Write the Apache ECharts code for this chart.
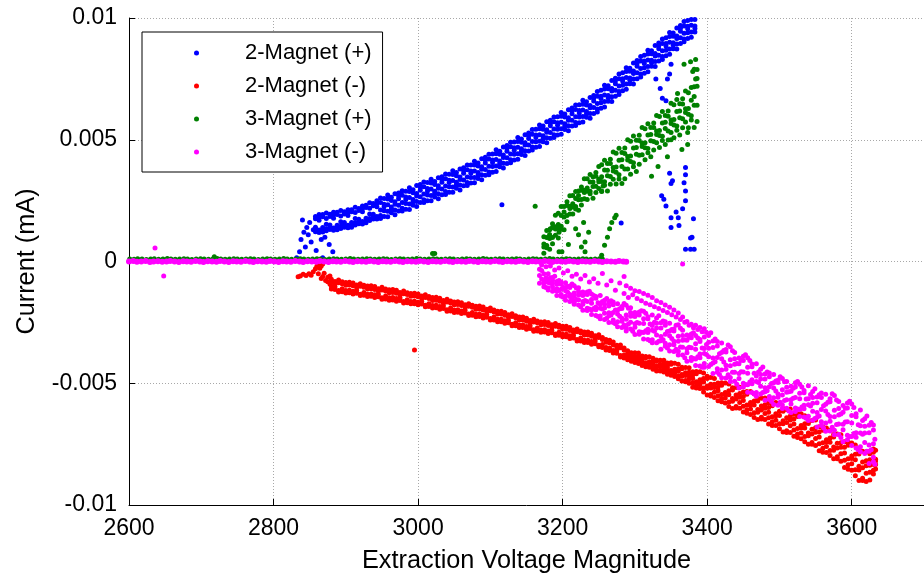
<!DOCTYPE html>
<html>
<head>
<meta charset="utf-8">
<script src="https://cdn.jsdelivr.net/npm/echarts@6/dist/echarts.min.js"></script>
<style>
html, body { margin: 0; padding: 0; background: #fff; }
#chart { width: 924px; height: 579px; }
</style>
</head>
<body>
<div id="chart"></div>
<script>
// Axis ticks
const voltageTicks = [2600, 2800, 3000, 3200, 3400, 3600];
const currentTicks = [-0.01, -0.005, 0, 0.005, 0.01];
const seriesNames = ['2-Magnet (+)', '2-Magnet (-)', '3-Magnet (+)', '3-Magnet (-)'];

// Each row: [extraction voltage, current (mA), current (mA), ...]
const twoMagnetPos = [
[2832,0.00015],[2836,0.0004],[2838,0.0009],[2840,0.0017],[2842,0.0012],[2844,0.0006],[2846,0.0014],[2848,0.0011],[2850,0.0016],[2852,0.0008],[2855,0.0013],
[2859,0.00045],[2866,0.0009],[2868,0.00015],[2871,0.001],[2877,0.0007],[2882,0.0004],[3116,0.00233],[3281,0.00158],
[2858,0.00185,0.00176,0.00131,0.00122,0.00141],
[2863,0.00193,0.00183,0.00129,0.00119,0.00169],
[2868,0.00184,0.00193,0.0014,0.00129,0.00121],
[2873,0.00199,0.00177,0.00126,0.00135,0.00153],
[2878,0.00194,0.00185,0.0014,0.00131,0.0015],
[2883,0.00202,0.00192,0.00138,0.00128,0.00178],
[2888,0.00193,0.00202,0.00149,0.00138,0.0013],
[2893,0.00209,0.00187,0.00136,0.00145,0.00163],
[2898,0.00204,0.00195,0.0015,0.00141,0.0016],
[2903,0.00213,0.00203,0.00149,0.00139,0.00189],
[2908,0.00204,0.00213,0.0016,0.00149,0.00141],
[2913,0.00223,0.00201,0.0015,0.00159,0.00177],
[2918,0.00218,0.00209,0.00164,0.00155,0.00174],
[2923,0.00228,0.00218,0.00164,0.00154,0.00204],
[2928,0.00222,0.00231,0.00178,0.00167,0.00159],
[2933,0.00241,0.00219,0.00168,0.00177,0.00195],
[2938,0.00238,0.00229,0.00184,0.00175,0.00194],
[2943,0.00249,0.00239,0.00185,0.00175,0.00225],
[2948,0.00261,0.00242,0.00212,0.00189,0.00177],
[2953,0.00259,0.00235,0.00208,0.00185,0.00225],
[2958,0.00273,0.00257,0.00233,0.00206,0.00184],
[2963,0.00264,0.00251,0.00224,0.002,0.00214],
[2968,0.00278,0.00245,0.00235,0.00212,0.00192],
[2973,0.0027,0.00281,0.00231,0.00207,0.00258],
[2978,0.00291,0.00272,0.00242,0.00219,0.00207],
[2983,0.00289,0.00265,0.00238,0.00215,0.00255],
[2988,0.00303,0.00287,0.00263,0.00236,0.00214],
[2993,0.00295,0.00282,0.00255,0.00231,0.00245],
[2998,0.00312,0.00279,0.00269,0.00246,0.00226],
[3003,0.00305,0.00316,0.00266,0.00242,0.00293],
[3008,0.00326,0.00307,0.00277,0.00254,0.00242],
[3013,0.00324,0.003,0.00273,0.0025,0.0029],
[3018,0.00338,0.00322,0.00298,0.00271,0.00249],
[3023,0.00329,0.00316,0.00289,0.00265,0.00279],
[3028,0.00344,0.00311,0.00301,0.00278,0.00258],
[3033,0.00337,0.00348,0.00298,0.00274,0.00325],
[3038,0.00359,0.0034,0.0031,0.00287,0.00275],
[3043,0.00358,0.00334,0.00307,0.00284,0.00324],
[3048,0.00373,0.00357,0.00333,0.00306,0.00284],
[3053,0.00365,0.00352,0.00325,0.00301,0.00315],
[3058,0.0038,0.00347,0.00337,0.00314,0.00294],
[3063,0.00374,0.00385,0.00335,0.00311,0.00362],
[3068,0.00396,0.00377,0.00347,0.00324,0.00312],
[3073,0.00396,0.00372,0.00345,0.00322,0.00362],
[3078,0.00412,0.00396,0.00372,0.00345,0.00323],
[3083,0.00405,0.00392,0.00365,0.00341,0.00355],
[3088,0.00422,0.00389,0.00379,0.00356,0.00336],
[3093,0.00417,0.00428,0.00378,0.00354,0.00405],
[3098,0.0044,0.00421,0.00391,0.00368,0.00356],
[3103,0.00441,0.00417,0.0039,0.00367,0.00407],
[3108,0.00459,0.00443,0.00419,0.00392,0.0037],
[3113,0.00453,0.0044,0.00413,0.00389,0.00403],
[3118,0.0047,0.00437,0.00427,0.00404,0.00384],
[3123,0.00465,0.00476,0.00426,0.00402,0.00453],
[3128,0.0049,0.00471,0.00441,0.00418,0.00406],
[3133,0.00491,0.00467,0.0044,0.00417,0.00457],
[3138,0.00509,0.00493,0.00469,0.00442,0.0042],
[3143,0.00503,0.0049,0.00463,0.00439,0.00453],
[3148,0.00521,0.00488,0.00478,0.00455,0.00435],
[3153,0.00517,0.00528,0.00478,0.00454,0.00505],
[3158,0.00542,0.00523,0.00493,0.0047,0.00458],
[3163,0.00543,0.00519,0.00492,0.00469,0.00509],
[3168,0.00561,0.00545,0.00521,0.00494,0.00472],
[3173,0.00556,0.00543,0.00516,0.00492,0.00506],
[3178,0.00574,0.00541,0.00531,0.00508,0.00488],
[3183,0.00569,0.0058,0.0053,0.00506,0.00557],
[3188,0.00593,0.00574,0.00544,0.00521,0.00509],
[3193,0.00594,0.0057,0.00543,0.0052,0.0056],
[3198,0.00612,0.00596,0.00572,0.00545,0.00523],
[3203,0.00606,0.00593,0.00566,0.00542,0.00556],
[3208,0.00623,0.0059,0.0058,0.00557,0.00537],
[3213,0.00619,0.0063,0.0058,0.00556,0.00607],
[3218,0.00643,0.00624,0.00594,0.00571,0.00559],
[3223,0.00644,0.0062,0.00593,0.0057,0.0061],
[3228,0.00662,0.00646,0.00622,0.00595,0.00573],
[3233,0.00656,0.00643,0.00616,0.00592,0.00606],
[3238,0.00674,0.00641,0.00631,0.00608,0.00588],
[3243,0.00671,0.00682,0.00632,0.00608,0.00659],
[3248,0.00698,0.00679,0.00649,0.00626,0.00614],
[3253,0.00703,0.00679,0.00652,0.00629,0.00669],
[3258,0.00724,0.00708,0.00684,0.00657,0.00635],
[3263,0.00722,0.00709,0.00682,0.00658,0.00672],
[3268,0.00743,0.0071,0.007,0.00677,0.00657],
[3273,0.00742,0.00753,0.00703,0.00679,0.0073],
[3278,0.0077,0.00751,0.00721,0.00698,0.00686],
[3283,0.00775,0.00751,0.00724,0.00701,0.00741],
[3288,0.00796,0.0078,0.00756,0.00729,0.00707],
[3293,0.00794,0.00781,0.00754,0.0073,0.00744],
[3298,0.00815,0.00782,0.00772,0.00749,0.00729],
[3303,0.00814,0.00825,0.00775,0.00751,0.00802],
[3308,0.00842,0.00823,0.00793,0.0077,0.00758],
[3313,0.00847,0.00823,0.00796,0.00773,0.00813],
[3318,0.00868,0.00852,0.00828,0.00801,0.00779],
[3323,0.00866,0.00853,0.00826,0.00802,0.00816],
[3328,0.00887,0.00854,0.00844,0.00821,0.00801],
[3333,0.00886,0.00897,0.00847,0.00823,0.00874],
[3338,0.00914,0.00895,0.00865,0.00842,0.0083],
[3343,0.00919,0.00895,0.00868,0.00845,0.00885],
[3348,0.0094,0.00924,0.009,0.00873,0.00851],
[3353,0.00938,0.00925,0.00898,0.00874,0.00888],
[3358,0.00959,0.00926,0.00916,0.00893,0.00873],
[3363,0.00958,0.00969,0.00919,0.00895,0.00946],
[3368,0.00986,0.00967,0.00937,0.00914,0.00902],
[3373,0.0099,0.00966,0.00939,0.00916,0.00956],
[3378,0.0101,0.00994,0.0097,0.00943,0.00921],
[3383,0.01007,0.00994,0.00967,0.00943,0.00957],
[3329,0.0075],[3335,0.0071],[3338,0.0067],[3343,0.0066],[3345,0.0075],[3348,0.0077],[3350,0.0081],
[3337,0.0027],[3340,0.00256],[3343,0.00228],[3348,0.00362],[3350,0.0032,0.0018,0.0014],[3352,0.00332],
[3357,0.00203],[3360,0.0018],[3361,0.00148],[3366,0.00217],[3368,0.00323],
[3370,0.00386,0.00356,0.0029,0.0025,0.0005],[3377,0.00097,0.0005],[3379,0.001],[3381,0.00176],[3382,0.0005]
];

const twoMagnetNeg = [
[2834,-0.00063],[2837,-0.0006],[2841,-0.00052],[2845,-0.00058],[2849,-0.0005],[2852,-0.00056],[2855,-0.00042],
[2858,-0.0003],[2860,-0.0002],[2862,-0.00012,-0.0005],[2864,-0.00028],[2866,-0.0007,-0.00018],[2868,-0.0001,-0.00062],
[2870,-0.00048],[2872,-0.00078],[2875,-0.00083,-0.00065],[2878,-0.0006,-0.00092],[2995,-0.00363],
[2880,-0.00073,-0.00085,-0.00102,-0.00113],
[2885,-0.00082,-0.00092,-0.00104,-0.00115],
[2890,-0.00076,-0.00087,-0.00119,-0.00125],
[2895,-0.00091,-0.00083,-0.00112,-0.00124],
[2900,-0.00086,-0.00098,-0.00129,-0.00119],
[2905,-0.00085,-0.00097,-0.00118,-0.00128],
[2910,-0.00088,-0.001,-0.00122,-0.00133],
[2915,-0.00097,-0.00107,-0.00119,-0.0013],
[2920,-0.00091,-0.00102,-0.00134,-0.0014],
[2925,-0.00106,-0.00098,-0.00127,-0.00139],
[2930,-0.00101,-0.00113,-0.00144,-0.00134],
[2935,-0.001,-0.00112,-0.00133,-0.00143],
[2940,-0.00103,-0.00115,-0.00137,-0.00148],
[2945,-0.00112,-0.00122,-0.00134,-0.00145],
[2950,-0.00106,-0.00117,-0.00149,-0.00155],
[2955,-0.00121,-0.00113,-0.00142,-0.00154],
[2960,-0.00116,-0.00128,-0.00159,-0.00149],
[2965,-0.00115,-0.00127,-0.00148,-0.00158],
[2970,-0.00118,-0.0013,-0.00152,-0.00163],
[2975,-0.00127,-0.00137,-0.00149,-0.0016],
[2980,-0.00121,-0.00132,-0.00164,-0.0017],
[2985,-0.00136,-0.00128,-0.00157,-0.00169],
[2990,-0.00131,-0.00143,-0.00174,-0.00164],
[2995,-0.0013,-0.00142,-0.00163,-0.00173],
[3000,-0.00133,-0.00145,-0.00167,-0.00178],
[3005,-0.00142,-0.00152,-0.00164,-0.00175],
[3010,-0.00137,-0.00148,-0.0018,-0.00186],
[3015,-0.00152,-0.00144,-0.00173,-0.00185],
[3020,-0.00148,-0.0016,-0.00191,-0.00181],
[3025,-0.00147,-0.00159,-0.0018,-0.0019],
[3030,-0.00151,-0.00163,-0.00185,-0.00196],
[3035,-0.0016,-0.0017,-0.00182,-0.00193],
[3040,-0.00155,-0.00166,-0.00198,-0.00204],
[3045,-0.0017,-0.00162,-0.00191,-0.00203],
[3050,-0.00166,-0.00178,-0.00209,-0.00199],
[3055,-0.00165,-0.00177,-0.00198,-0.00208],
[3060,-0.00169,-0.00181,-0.00203,-0.00214],
[3065,-0.00178,-0.00188,-0.002,-0.00211],
[3070,-0.00173,-0.00184,-0.00216,-0.00222],
[3075,-0.00188,-0.0018,-0.00209,-0.00221],
[3080,-0.00184,-0.00196,-0.00227,-0.00217],
[3085,-0.00183,-0.00195,-0.00216,-0.00226],
[3090,-0.00187,-0.00199,-0.00221,-0.00232],
[3095,-0.00196,-0.00206,-0.00218,-0.00229],
[3100,-0.00191,-0.00202,-0.00234,-0.0024],
[3105,-0.00207,-0.00199,-0.00228,-0.0024],
[3110,-0.00204,-0.00216,-0.00247,-0.00237],
[3115,-0.00204,-0.00216,-0.00237,-0.00247],
[3120,-0.00209,-0.00221,-0.00243,-0.00254],
[3125,-0.00219,-0.00229,-0.00241,-0.00252],
[3130,-0.00215,-0.00226,-0.00258,-0.00264],
[3135,-0.00231,-0.00223,-0.00252,-0.00264],
[3140,-0.00228,-0.0024,-0.00271,-0.00261],
[3145,-0.00228,-0.0024,-0.00261,-0.00271],
[3150,-0.00233,-0.00245,-0.00267,-0.00278],
[3155,-0.00242,-0.00252,-0.00264,-0.00275],
[3160,-0.00237,-0.00248,-0.0028,-0.00286],
[3165,-0.00252,-0.00244,-0.00273,-0.00285],
[3170,-0.00248,-0.0026,-0.00291,-0.00281],
[3175,-0.00247,-0.00259,-0.0028,-0.0029],
[3180,-0.00251,-0.00263,-0.00285,-0.00296],
[3185,-0.0026,-0.0027,-0.00282,-0.00293],
[3190,-0.00255,-0.00266,-0.00298,-0.00304],
[3195,-0.0027,-0.00262,-0.00291,-0.00303],
[3200,-0.00266,-0.00278,-0.00309,-0.00299],
[3205,-0.00266,-0.00278,-0.00299,-0.00309],
[3210,-0.00271,-0.00283,-0.00305,-0.00316],
[3215,-0.00281,-0.00291,-0.00303,-0.00314],
[3220,-0.00277,-0.00288,-0.0032,-0.00326],
[3225,-0.00293,-0.00285,-0.00314,-0.00326],
[3230,-0.0029,-0.00302,-0.00333,-0.00323],
[3235,-0.0029,-0.00302,-0.00323,-0.00333],
[3240,-0.00295,-0.00307,-0.00329,-0.0034],
[3245,-0.00305,-0.00315,-0.00327,-0.00338],
[3250,-0.00301,-0.00312,-0.00344,-0.0035],
[3255,-0.0032,-0.00312,-0.00341,-0.00353],
[3260,-0.0032,-0.00332,-0.00363,-0.00353],
[3265,-0.00323,-0.00335,-0.00356,-0.00366],
[3270,-0.00331,-0.00343,-0.00365,-0.00376],
[3275,-0.00344,-0.00354,-0.00366,-0.00377],
[3280,-0.00343,-0.00354,-0.00386,-0.00392],
[3285,-0.00363,-0.00355,-0.00384,-0.00396],
[3290,-0.00367,-0.00378,-0.00384,-0.00396,-0.00403],
[3295,-0.00375,-0.00379,-0.00393,-0.00398,-0.0041],
[3300,-0.00375,-0.0039,-0.00397,-0.00412,-0.00415],
[3305,-0.00376,-0.00389,-0.00396,-0.00407,-0.00419],
[3310,-0.00388,-0.00397,-0.00405,-0.00416,-0.00427],
[3315,-0.0039,-0.00395,-0.00416,-0.00425,-0.00432],
[3320,-0.00391,-0.00412,-0.00415,-0.00424,-0.00434],
[3325,-0.00397,-0.00411,-0.00419,-0.00433,-0.00443],
[3330,-0.00405,-0.0041,-0.00429,-0.00434,-0.0045],
[3335,-0.00406,-0.00422,-0.00431,-0.00447,-0.0045],
[3340,-0.00406,-0.0042,-0.00429,-0.0044,-0.00454],
[3345,-0.00417,-0.00427,-0.00437,-0.0045,-0.00463],
[3350,-0.00416,-0.00422,-0.00448,-0.00459,-0.00467],
[3355,-0.00418,-0.00443,-0.00448,-0.00459,-0.00472],
[3360,-0.00422,-0.00441,-0.00451,-0.0047,-0.00482],
[3365,-0.00434,-0.0044,-0.00464,-0.00471,-0.00491],
[3370,-0.00435,-0.00457,-0.00468,-0.00489,-0.00494],
[3375,-0.00436,-0.00455,-0.00466,-0.00482,-0.005],
[3380,-0.00453,-0.00466,-0.0048,-0.00498,-0.00516],
[3385,-0.00452,-0.00461,-0.00494,-0.00509,-0.0052],
[3390,-0.00453,-0.00486,-0.00492,-0.00506,-0.00522],
[3395,-0.00458,-0.00481,-0.00495,-0.0052,-0.00536],
[3400,-0.00471,-0.0048,-0.00511,-0.00521,-0.00548],
[3405,-0.00476,-0.00504,-0.00519,-0.00546,-0.00552],
[3410,-0.0048,-0.00504,-0.00517,-0.00537,-0.00559],
[3415,-0.00499,-0.00515,-0.00531,-0.00551,-0.00572],
[3420,-0.00498,-0.00508,-0.00546,-0.00563,-0.00576],
[3425,-0.00499,-0.00538,-0.00545,-0.00561,-0.00581],
[3430,-0.00503,-0.00531,-0.00547,-0.00577,-0.00595],
[3435,-0.00518,-0.00528,-0.00563,-0.00574,-0.00604],
[3440,-0.00517,-0.00548,-0.00565,-0.00595,-0.00602],
[3445,-0.00516,-0.00542,-0.00557,-0.00579,-0.00603],
[3450,-0.00536,-0.00554,-0.00571,-0.00594,-0.00618],
[3455,-0.00534,-0.00545,-0.00589,-0.00609,-0.00623],
[3460,-0.00534,-0.00579,-0.00588,-0.00606,-0.00628],
[3465,-0.00543,-0.00573,-0.00589,-0.00621,-0.00641],
[3470,-0.00563,-0.00573,-0.00608,-0.00619,-0.00649],
[3475,-0.00562,-0.00593,-0.0061,-0.0064,-0.00647],
[3480,-0.00561,-0.00588,-0.00603,-0.00624,-0.00649],
[3485,-0.00581,-0.006,-0.00619,-0.00642,-0.00667],
[3490,-0.0058,-0.00592,-0.00638,-0.00658,-0.00674],
[3495,-0.00579,-0.00625,-0.00633,-0.00652,-0.00674],
[3500,-0.00583,-0.00615,-0.00632,-0.00666,-0.00687],
[3505,-0.00604,-0.00615,-0.00654,-0.00666,-0.007],
[3510,-0.00608,-0.00642,-0.00661,-0.00695,-0.00702],
[3515,-0.00606,-0.00635,-0.00651,-0.00675,-0.00702],
[3520,-0.00627,-0.00647,-0.00667,-0.00692,-0.00718],
[3525,-0.00625,-0.00637,-0.00686,-0.00708,-0.00723],
[3530,-0.00625,-0.00674,-0.00684,-0.00704,-0.00728],
[3535,-0.00633,-0.00666,-0.00684,-0.00719,-0.0074],
[3540,-0.00654,-0.00665,-0.00704,-0.00716,-0.0075],
[3545,-0.00653,-0.00689,-0.00708,-0.00743,-0.00751],
[3550,-0.00651,-0.00683,-0.00701,-0.00727,-0.00756],
[3555,-0.00679,-0.007,-0.00721,-0.00748,-0.00777],
[3560,-0.0068,-0.00693,-0.00744,-0.00767,-0.00783],
[3565,-0.00684,-0.00732,-0.00741,-0.0076,-0.00784],
[3570,-0.00693,-0.00725,-0.00742,-0.00776,-0.00797],
[3575,-0.0071,-0.00721,-0.00762,-0.00775,-0.0081],
[3580,-0.00708,-0.00746,-0.00766,-0.00802,-0.0081],
[3585,-0.00711,-0.00744,-0.00763,-0.0079,-0.0082],
[3590,-0.0074,-0.00763,-0.00786,-0.00816,-0.00846],
[3595,-0.00741,-0.00755,-0.0081,-0.00835,-0.00853],
[3600,-0.00745,-0.00799,-0.00809,-0.00831,-0.00857],
[3605,-0.00754,-0.00792,-0.00814,-0.00855,-0.0088],
[3610,-0.00778,-0.00791,-0.00841,-0.00856,-0.00899],
[3615,-0.00779,-0.00823,-0.00847,-0.0089,-0.00899],
[3620,-0.00781,-0.00818,-0.00839,-0.0087,-0.00904],
[3625,-0.0079,-0.00814,-0.00837,-0.00866,-0.00897],
[3630,-0.0077,-0.00783,-0.00834,-0.00857,-0.00873],
[3633,-0.00775,-0.00812,-0.00819,-0.00834,-0.00852]
];

const threeMagnetPosBaseline = [
[2601,0.0001],[2607,0.00009],[2612,0.00011],[2618,0.0001],[2624,0.00008],[2630,0.0001],[2635,0.00011],[2641,0.00009],[2647,0.0001],[2653,0.00012],
[2658,0.0001],[2664,0.00009],[2670,0.0001],[2676,0.00011],[2681,0.0001],[2687,0.00008],[2693,0.0001],[2699,0.00011],[2704,0.0001],[2710,0.00009],
[2716,0.0001],[2718,0.0002],[2722,0.00012],[2727,0.0001],[2733,0.00009],[2739,0.0001],[2745,0.00011],[2750,0.0001],[2756,0.00009],[2762,0.0001],[2768,0.00011],
[2773,0.0001],[2779,0.00008],[2785,0.0001],[2791,0.00011],[2796,0.0001],[2802,0.00009],[2808,0.0001],[2814,0.00012],[2819,0.0001],[2825,0.00009],
[2831,0.0001],[2837,0.00011],[2842,0.0001],[2848,0.00009],[2854,0.0001],[2860,0.00011],[2865,0.0001],[2871,0.00008],[2877,0.0001],[2883,0.00011],
[2888,0.0001],[2894,0.00009],[2900,0.0001],[2906,0.00012],[2911,0.0001],[2917,0.00009],[2923,0.0001],[2929,0.00011],[2934,0.0001],[2940,0.00009],
[2946,0.0001],[2952,0.00011],[2957,0.0001],[2963,0.00008],[2969,0.0001],[2975,0.00011],[2980,0.0001],[2986,0.00009],[2992,0.0001],[2998,0.00012],
[3003,0.0001],[3009,0.00009],[3015,0.0001],[3021,0.00011],[3026,0.0001],[3032,0.00009],[3038,0.0001],[3044,0.00011],[3049,0.0001],[3055,0.00008],
[3061,0.0001],[3067,0.00011],[3072,0.0001],[3078,0.00009],[3084,0.0001],[3090,0.00012],[3095,0.0001],[3101,0.00009],[3107,0.0001],[3113,0.00011],
[3118,0.0001],[3124,0.00009],[3130,0.0001],[3136,0.00011],[3141,0.0001],[3147,0.00008],[3153,0.0001],[3159,0.00011],[3164,0.0001],[3170,0.00009],
[3176,0.0001],[3182,0.00012],[3187,0.0001],[3193,0.00009],[3199,0.0001],[3205,0.00011],[3210,0.0001],[3216,0.00009],[3222,0.0001],[3228,0.00011],
[3233,0.0001],[3239,0.00009],[3245,0.0001],[3251,0.00011],[3255,0.0001]
];

const threeMagnetPos = [
[3020,0.00033],[3023,0.00033],[3162,0.00227],
[3174,0.00034,0.0006,0.00072,0.00102],
[3178,0.00056,0.00066,0.00099,0.00127],
[3182,0.0005,0.00094,0.00111,0.0013],
[3186,0.00073,0.00099,0.0014,0.00155],
[3190,0.00108,0.00133,0.00143,0.0019],
[3194,0.00096,0.00136,0.00152,0.00198],
[3198,0.00132,0.00145,0.00189,0.00226],
[3202,0.0013,0.00183,0.00203,0.00226],
[3206,0.00163,0.00189,0.0023,0.00245],
[3210,0.00195,0.00218,0.00227,0.0027],
[3214,0.00195,0.00224,0.00237,0.00271],
[3218,0.00216,0.00226,0.00259,0.00287],
[3222,0.0021,0.00254,0.00271,0.0029],
[3226,0.00232,0.00255,0.00293,0.00306],
[3230,0.00258,0.00283,0.00293,0.0034],
[3234,0.00255,0.00288,0.00302,0.0034],
[3238,0.00278,0.00289,0.00326,0.00357],
[3242,0.0026,0.00308,0.00327,0.00348],
[3246,0.00283,0.00309,0.0035,0.00365],
[3250,0.003,0.00328,0.00338,0.0039],
[3254,0.00287,0.00329,0.00348,0.00397],
[3258,0.00313,0.00328,0.00376,0.00416],
[3262,0.0029,0.00352,0.00375,0.00402],
[3266,0.00317,0.00349,0.00402,0.0042],
[3270,0.00338,0.00372,0.00386,0.0045],
[3274,0.00318,0.00367,0.00388,0.00445],
[3278,0.00339,0.00356,0.00416,0.00465],
[3282,0.0032,0.0039,0.00418,0.00448],
[3286,0.0034,0.0038,0.00444,0.00466],
[3290,0.0038,0.00417,0.00431,0.005],
[3294,0.00358,0.00411,0.00433,0.00494],
[3298,0.00389,0.00406,0.00466,0.00515],
[3302,0.0037,0.0044,0.00468,0.00498],
[3306,0.00399,0.00436,0.00497,0.00518],
[3310,0.00438,0.00472,0.00486,0.0055],
[3314,0.00418,0.00467,0.00488,0.00545],
[3318,0.00447,0.00464,0.00519,0.00566],
[3322,0.0043,0.00496,0.00522,0.0055],
[3326,0.00458,0.00493,0.0055,0.00569],
[3330,0.00488,0.00522,0.00536,0.006],
[3334,0.00468,0.00517,0.00538,0.00595],
[3338,0.00497,0.00514,0.00569,0.00616],
[3342,0.0048,0.00546,0.00572,0.006],
[3346,0.00499,0.00536,0.00597,0.00618],
[3350,0.0053,0.00567,0.00581,0.0065],
[3354,0.00508,0.00561,0.00583,0.00644],
[3358,0.00539,0.00556,0.00616,0.00665],
[3362,0.0052,0.0059,0.00618,0.00648],
[3366,0.00549,0.00586,0.00647,0.00668],
[3370,0.00573,0.00612,0.00627,0.007],
[3374,0.00549,0.00605,0.00628,0.00693],
[3378,0.00581,0.00599,0.00662,0.00715],
[3382,0.0055,0.00642,0.00678,0.00718],
[3386,0.00575,0.00642,0.00752,0.00789],
[3176,0.00067],[3181,0.001],[3183,0.00135],[3195,0.0012,0.0004],[3199,0.0004],[3208,0.0007],[3218,0.00135],[3222,0.0011],
[3226,0.0006],[3229,0.0016],[3231,0.0008,0.0004],[3236,0.0012],[3254,0.00026,0.0029],[3256,0.0031],[3258,0.00067],[3262,0.001],
[3265,0.00135],[3268,0.0016],[3272,0.0018],[3274,0.0019],[3323,0.0035],[3332,0.0039],[3345,0.0043],[3350,0.005],[3359,0.0069],
[3365,0.0046],[3368,0.0081],[3373,0.0053,0.0048],[3377,0.0082],[3380,0.0078],[3382,0.0079],[3384,0.0083,0.0075],[3386,0.0072]
];

const threeMagnetNegBaseline = [
[2600,0],[2606,0.00002],[2611,-0.00001],[2617,0],[2623,0.00002],[2629,-0.00002],[2634,0],[2640,0.00001],[2646,-0.00001],[2652,0],
[2657,0.00002],[2663,0],[2669,-0.00002],[2675,0.00001],[2680,0],[2686,-0.00001],[2692,0.00002],[2698,0],[2703,-0.00002],[2709,0.00001],
[2715,0],[2721,-0.00001],[2726,0.00002],[2732,0],[2738,-0.00002],[2744,0.00001],[2749,0],[2755,-0.00001],[2761,0.00002],[2767,0],
[2772,-0.00002],[2778,0.00001],[2784,0],[2790,-0.00001],[2795,0.00002],[2801,0],[2807,-0.00002],[2813,0.00001],[2818,0],[2824,-0.00001],
[2830,0.00002],[2836,0],[2841,-0.00002],[2847,0.00001],[2853,0],[2859,-0.00001],[2864,0.00002],[2870,0],[2876,-0.00002],[2882,0.00001],
[2887,0],[2893,-0.00001],[2899,0.00002],[2905,0],[2910,-0.00002],[2916,0.00001],[2922,0],[2928,-0.00001],[2933,0.00002],[2939,0],
[2945,-0.00002],[2951,0.00001],[2956,0],[2962,-0.00001],[2968,0.00002],[2974,0],[2979,-0.00002],[2985,0.00001],[2991,0],[2997,-0.00001],
[3002,0.00002],[3008,0],[3014,-0.00002],[3020,0.00001],[3025,0],[3031,-0.00001],[3037,0.00002],[3043,0],[3048,-0.00002],[3054,0.00001],
[3060,0],[3066,-0.00001],[3071,0.00002],[3077,0],[3083,-0.00002],[3089,0.00001],[3094,0],[3100,-0.00001],[3106,0.00002],[3112,0],
[3117,-0.00002],[3123,0.00001],[3129,0],[3135,-0.00001],[3140,0.00002],[3146,0],[3152,-0.00002],[3158,0.00001],[3163,0],[3169,-0.00001],
[3175,0.00002],[3181,0],[3186,-0.00002],[3192,0.00001],[3198,0],[3204,-0.00001],[3209,0.00002],[3215,0],[3221,-0.00002],[3227,0.00001],
[3232,0],[3238,-0.00001],[3244,0.00002],[3250,0],[3255,-0.00002],[3261,0.00001],[3267,0],[3273,-0.00001],[3278,0.00002],[3284,0],[3288,-0.00001]
];

const threeMagnetNeg = [
[2636,0.00055],[2648,-0.0006],[3366,-0.0001],
[3168,-0.00032,-0.00058,-0.00089],
[3171,-0.00014,-0.00037,-0.00072],
[3174,-0.0005,-0.0008,-0.00088,-0.00104],
[3177,-0.00022,-0.00067,-0.00107],
[3180,-0.0005,-0.00075,-0.00086,-0.00109,-0.00117],
[3183,-0.00018,-0.00067,-0.00089],
[3186,-0.00066,-0.00078,-0.00089,-0.00104,-0.00122],
[3189,-0.00035,-0.00061,-0.00118],
[3192,-0.00082,-0.00093,-0.00112,-0.00121,-0.0014],
[3195,-0.00027,-0.00078,-0.00119],
[3198,-0.00084,-0.00093,-0.00114,-0.00136,-0.00143],
[3201,-0.00047,-0.00107,-0.00147],
[3204,-0.00087,-0.00107,-0.0012,-0.00143,-0.00159],
[3207,-0.00038,-0.00103,-0.00126],
[3210,-0.00101,-0.00107,-0.00136,-0.00144,-0.00164],
[3213,-0.00061,-0.00092,-0.00156],
[3216,-0.001,-0.00129,-0.00142,-0.00167,-0.00176],
[3219,-0.00052,-0.00109,-0.00156],
[3222,-0.00108,-0.00123,-0.00137,-0.00157,-0.00179],
[3225,-0.00072,-0.00135,-0.00186],
[3228,-0.00125,-0.0014,-0.00164,-0.00176,-0.002],
[3231,-0.00058,-0.00132,-0.0016],
[3234,-0.00125,-0.00136,-0.00164,-0.00192,-0.00201],
[3237,-0.00084,-0.00122,-0.00195],
[3240,-0.00133,-0.00156,-0.00171,-0.00199,-0.00218],
[3243,-0.00071,-0.0014,-0.00193],
[3246,-0.00144,-0.00151,-0.00187,-0.00198,-0.00222],
[3249,-0.00089,-0.00169,-0.00226],
[3252,-0.0014,-0.00176,-0.00192,-0.00224,-0.00235],
[3255,-0.00049,-0.00164,-0.00195],
[3258,-0.00159,-0.00176,-0.00191,-0.00213,-0.00238],
[3261,-0.00096,-0.00152,-0.00233],
[3264,-0.00167,-0.00183,-0.0021,-0.00223,-0.0025],
[3267,-0.00079,-0.00161,-0.0022],
[3270,-0.00166,-0.00178,-0.00209,-0.0024,-0.0025],
[3273,-0.00118,-0.00199,-0.00256],
[3276,-0.00173,-0.00199,-0.00216,-0.00247,-0.00268],
[3279,-0.00088,-0.00194,-0.00225],
[3282,-0.00185,-0.00193,-0.00233,-0.00245,-0.00271],
[3285,-0.00062,-0.00131,-0.00172,-0.00261],
[3288,-0.001,-0.0018,-0.0022,-0.00237,-0.00272,-0.00285],
[3291,-0.00148,-0.00192,-0.00257],
[3294,-0.0011,-0.0019,-0.00209,-0.00225,-0.00249,-0.00277],
[3297,-0.00137,-0.00223,-0.00286],
[3300,-0.0012,-0.00209,-0.00226,-0.00256,-0.0027,-0.003],
[3303,-0.00152,-0.00216,-0.0025],
[3306,-0.00123,-0.00207,-0.0022,-0.00254,-0.00288,-0.00299],
[3309,-0.00161,-0.00202,-0.00291],
[3312,-0.00131,-0.00204,-0.00235,-0.00255,-0.00292,-0.00318],
[3315,-0.00171,-0.00213,-0.00284],
[3318,-0.00139,-0.00227,-0.00235,-0.00278,-0.00292,-0.0032],
[3321,-0.00178,-0.00257,-0.00325],
[3324,-0.00148,-0.0022,-0.00263,-0.00282,-0.00321,-0.00334],
[3327,-0.00186,-0.00249,-0.00286],
[3330,-0.00161,-0.00232,-0.00254,-0.00273,-0.00302,-0.00334],
[3333,-0.00193,-0.00223,-0.00328],
[3336,-0.00168,-0.00252,-0.00273,-0.00308,-0.00325,-0.0036],
[3339,-0.00201,-0.00244,-0.00321],
[3342,-0.00179,-0.00247,-0.00262,-0.00299,-0.00336,-0.00348],
[3345,-0.00209,-0.00287,-0.00355],
[3348,-0.00188,-0.00254,-0.00285,-0.00305,-0.00342,-0.00368],
[3351,-0.00219,-0.00279,-0.00316],
[3354,-0.00199,-0.00277,-0.00285,-0.00328,-0.00342,-0.0037],
[3357,-0.00228,-0.00262,-0.0036],
[3360,-0.00211,-0.0026,-0.00307,-0.00328,-0.00369,-0.00384],
[3363,-0.00238,-0.00274,-0.00351],
[3366,-0.00228,-0.00282,-0.00304,-0.00323,-0.00352,-0.00384],
[3369,-0.00249,-0.00321,-0.00395],
[3372,-0.00246,-0.00302,-0.00323,-0.00358,-0.00375,-0.0041],
[3375,-0.00262,-0.00311,-0.00352],
[3378,-0.00258,-0.00298,-0.00313,-0.00354,-0.00394,-0.00407],
[3381,-0.00272,-0.00293,-0.00398],
[3384,-0.00262,-0.00304,-0.00338,-0.0036,-0.004,-0.00427],
[3387,-0.00279,-0.00314,-0.00391],
[3390,-0.00271,-0.0032,-0.00329,-0.0038,-0.00395,-0.00429],
[3393,-0.00288,-0.00355,-0.00434],
[3396,-0.00276,-0.0031,-0.00357,-0.00378,-0.00419,-0.00434],
[3399,-0.00292,-0.00341,-0.00382],
[3402,-0.00304,-0.00332,-0.00356,-0.00391,-0.00431],
[3405,-0.00293,-0.00423],
[3408,-0.00327,-0.00353,-0.00396,-0.00417,-0.0046],
[3411,-0.00318,-0.00412],
[3414,-0.00329,-0.00347,-0.00394,-0.0044,-0.00455],
[3417,-0.00379,-0.00464],
[3420,-0.00335,-0.00374,-0.00399,-0.00446,-0.00477],
[3423,-0.00366,-0.00413],
[3426,-0.00361,-0.00372,-0.00426,-0.00442,-0.00478],
[3429,-0.00343,-0.00465],
[3432,-0.0035,-0.00404,-0.00428,-0.00476,-0.00493],
[3435,-0.00367,-0.00455],
[3438,-0.00374,-0.00399,-0.00422,-0.00455,-0.00492],
[3441,-0.00419,-0.00504],
[3444,-0.00396,-0.0042,-0.0046,-0.0048,-0.0052],
[3447,-0.00406,-0.00453],
[3450,-0.00389,-0.00407,-0.00454,-0.005,-0.00515],
[3453,-0.00383,-0.00505],
[3456,-0.00395,-0.00434,-0.00459,-0.00506,-0.00537],
[3459,-0.00407,-0.00495],
[3462,-0.00421,-0.00432,-0.00486,-0.00502,-0.00538],
[3465,-0.00459,-0.00544],
[3468,-0.0042,-0.0047,-0.00493,-0.00538,-0.00553],
[3471,-0.00454,-0.00497],
[3474,-0.00442,-0.00464,-0.00483,-0.00512,-0.00544],
[3477,-0.00433,-0.00538],
[3480,-0.00462,-0.00483,-0.00518,-0.00535,-0.0057],
[3483,-0.00454,-0.00531],
[3486,-0.00458,-0.00473,-0.00514,-0.00554,-0.00567],
[3489,-0.00501,-0.00575],
[3492,-0.00464,-0.00498,-0.0052,-0.0056,-0.00587],
[3495,-0.00491,-0.00532],
[3498,-0.00488,-0.00497,-0.00544,-0.00558,-0.0059],
[3501,-0.00473,-0.00578],
[3504,-0.0048,-0.00527,-0.00548,-0.00589,-0.00604],
[3507,-0.00494,-0.00571],
[3510,-0.00493,-0.00516,-0.00537,-0.00568,-0.00603],
[3513,-0.00535,-0.00614],
[3516,-0.00512,-0.00533,-0.00568,-0.00585,-0.0062],
[3519,-0.00521,-0.00562],
[3522,-0.00498,-0.00515,-0.00559,-0.00602,-0.00616],
[3525,-0.00493,-0.00606],
[3528,-0.00504,-0.00541,-0.00564,-0.00608,-0.00637],
[3531,-0.00515,-0.00598],
[3534,-0.0053,-0.00539,-0.0059,-0.00605,-0.00639],
[3537,-0.00565,-0.00644],
[3540,-0.0051,-0.00564,-0.00588,-0.00636,-0.00653],
[3543,-0.00546,-0.00593],
[3546,-0.00534,-0.00559,-0.00582,-0.00615,-0.00652],
[3549,-0.00523,-0.00645],
[3552,-0.00556,-0.0058,-0.0062,-0.0064,-0.0068],
[3555,-0.00547,-0.00635],
[3558,-0.0054,-0.00559,-0.00608,-0.00658,-0.00674],
[3561,-0.00592,-0.00684],
[3564,-0.00545,-0.00586,-0.00614,-0.00663,-0.00697],
[3567,-0.00578,-0.00628],
[3570,-0.00564,-0.00576,-0.00637,-0.00656,-0.00696],
[3573,-0.00543,-0.00681],
[3576,-0.0055,-0.00611,-0.00638,-0.00693,-0.00712],
[3579,-0.00569,-0.00669],
[3582,-0.00575,-0.00604,-0.0063,-0.00667,-0.0071],
[3585,-0.00626,-0.00723],
[3588,-0.00591,-0.00619,-0.00668,-0.00691,-0.0074],
[3591,-0.00603,-0.00659],
[3594,-0.00581,-0.00602,-0.00658,-0.00714,-0.00732],
[3597,-0.00574,-0.00719],
[3600,-0.00585,-0.00632,-0.00663,-0.00719,-0.00756],
[3603,-0.006,-0.00706],
[3606,-0.00625,-0.00638,-0.00703,-0.00722,-0.00766],
[3609,-0.0067,-0.00773],
[3612,-0.0061,-0.00675,-0.00704,-0.00761,-0.00781],
[3615,-0.00653,-0.00709],
[3618,-0.00646,-0.00677,-0.00704,-0.00743,-0.00788],
[3621,-0.00634,-0.00779],
[3624,-0.00672,-0.00703,-0.00754,-0.00779,-0.0083],
[3627,-0.00661,-0.00773],
[3630,-0.00671,-0.00692,-0.00748,-0.00804,-0.00822],
[3632,-0.0073,-0.00833]
];

// Flatten [voltage, reading, reading, ...] rows into [voltage, reading] points
function toPoints(rows) {
  const pts = [];
  rows.forEach(function (r) {
    for (let i = 1; i < r.length; i++) pts.push([r[0], r[i]]);
  });
  return pts;
}

const colors = {
  '2-Magnet (+)': '#0000ff',
  '2-Magnet (-)': '#ff0000',
  '3-Magnet (+)': '#008000',
  '3-Magnet (-)': '#ff00ff'
};
const font = "'Liberation Sans', Arial, Helvetica, sans-serif";

function dots(name, rows, size) {
  return {
    type: 'scatter',
    name: name,
    data: toPoints(rows),
    symbol: 'circle',
    symbolSize: size,
    itemStyle: { color: colors[name], opacity: 1 },
    silent: true,
    animation: false,
    progressive: 0,
    emphasis: { disabled: true }
  };
}

const chart = echarts.init(document.getElementById('chart'), null, { renderer: 'canvas' });
chart.setOption({
  animation: false,
  backgroundColor: '#ffffff',
  textStyle: { fontFamily: font },
  grid: { left: 129, right: -8, top: 18, bottom: 71 },
  legend: {
    data: seriesNames,
    orient: 'vertical',
    left: 142,
    top: 32,
    itemWidth: 5,
    itemHeight: 5,
    itemGap: 11,
    padding: [10, 11, 9, 52],
    icon: 'circle',
    borderColor: '#000',
    borderWidth: 1,
    borderRadius: 0,
    backgroundColor: '#fff',
    selectedMode: false,
    textStyle: { fontSize: 22, color: '#000', fontFamily: font, padding: [0, 0, 0, 41] }
  },
  xAxis: {
    type: 'value',
    min: voltageTicks[0],
    max: 3700,
    interval: voltageTicks[1] - voltageTicks[0],
    name: 'Extraction Voltage Magnitude',
    nameLocation: 'middle',
    nameGap: 44,
    nameTextStyle: { fontSize: 25.3, color: '#000', fontFamily: font },
    axisLine: { onZero: false, lineStyle: { color: '#000', width: 1 } },
    axisTick: { inside: true, length: 6, lineStyle: { color: '#000' } },
    axisLabel: { fontSize: 23, color: '#000', margin: 12, showMaxLabel: false, fontFamily: font,
      formatter: function (v) { return String(v); } },
    splitLine: { show: true, lineStyle: { color: '#a8a8a8', type: [1, 2], width: 1 } }
  },
  yAxis: {
    type: 'value',
    min: currentTicks[0],
    max: currentTicks[currentTicks.length - 1],
    interval: currentTicks[1] - currentTicks[0],
    name: 'Current (mA)',
    nameLocation: 'middle',
    nameGap: 89,
    nameTextStyle: { fontSize: 25.3, color: '#000', fontFamily: font },
    axisLine: { show: true, onZero: false, lineStyle: { color: '#000', width: 1 } },
    axisTick: { show: true, inside: true, length: 6, lineStyle: { color: '#000' } },
    axisLabel: { fontSize: 23, color: '#000', margin: 12, fontFamily: font },
    splitLine: { show: true, lineStyle: { color: '#a8a8a8', type: [1, 2], width: 1 } }
  },
  series: [
    dots(seriesNames[0], twoMagnetPos, 5),
    dots(seriesNames[1], twoMagnetNeg, 5),
    dots(seriesNames[2], threeMagnetPosBaseline, 5),
    dots(seriesNames[2], threeMagnetPos, 5),
    dots(seriesNames[3], threeMagnetNegBaseline, 6),
    dots(seriesNames[3], threeMagnetNeg, 5)
  ]
});
</script>
</body>
</html>
